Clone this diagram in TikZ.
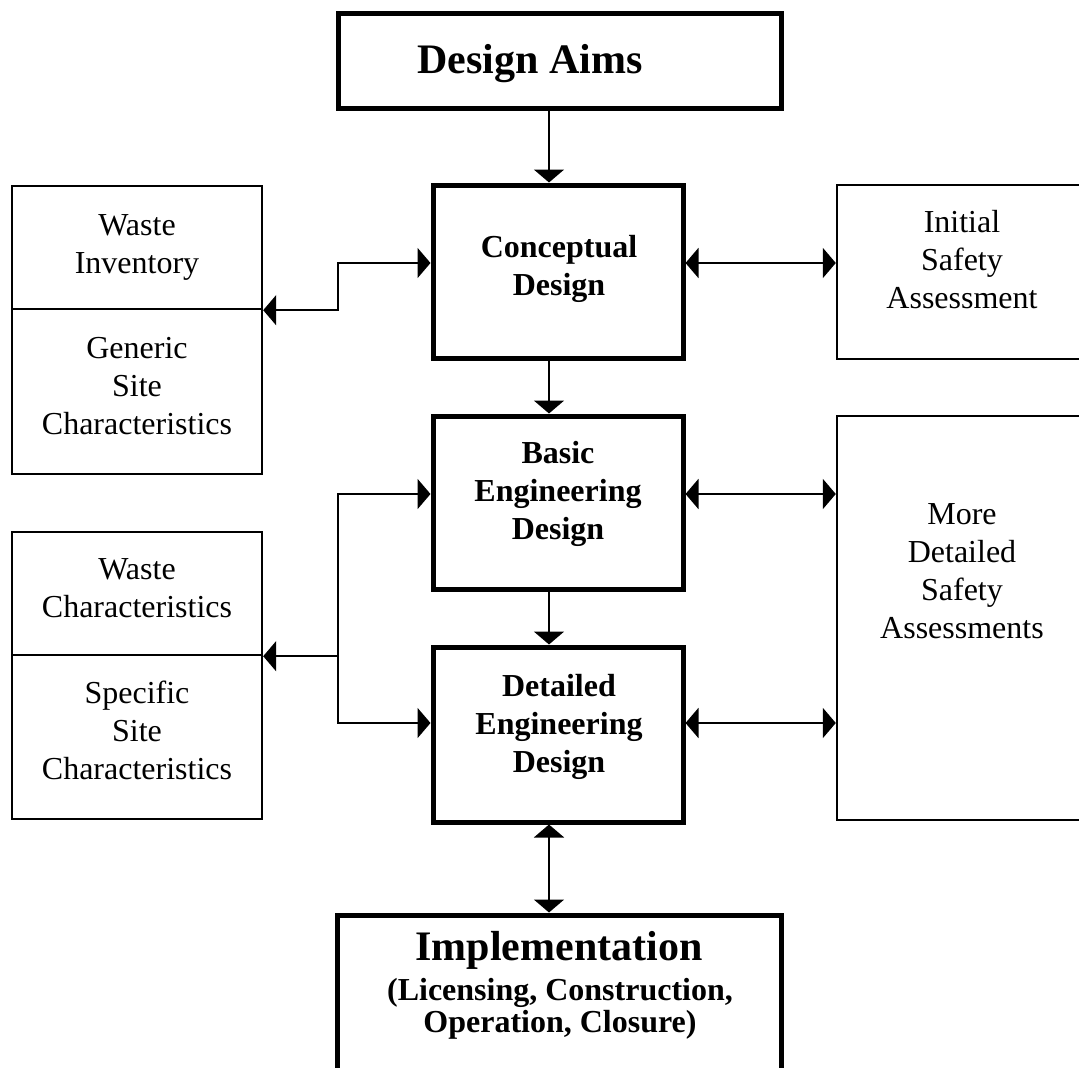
\documentclass[tikz,border=0pt]{standalone}
\usepackage{fontspec}
\setmainfont{Liberation Serif}
\usetikzlibrary{arrows.meta}
\begin{document}
\begin{tikzpicture}[x=1pt,y=-1pt,
  heavybox/.style={draw, line width=5pt, rectangle, inner sep=0pt},
  lightbox/.style={draw, line width=2.4pt, rectangle, inner sep=0pt},
  link/.style={line width=2.2pt},
  >={Triangle[length=13pt,width=30pt]},
  bigtxt/.style={font=\fontsize{42}{48}\selectfont\bfseries, inner sep=0pt, anchor=base},
  boldtxt/.style={font=\fontsize{32}{38}\selectfont\bfseries, align=center, inner sep=0pt, anchor=base},
  plaintxt/.style={font=\fontsize{32}{38}\selectfont, align=center, inner sep=0pt, anchor=base},
]
\clip (0,0) rectangle (1079,1068);
\fill[white] (0,0) rectangle (1079,1068);

% boxes
\node[heavybox, minimum width=443pt, minimum height=95pt] (aims) at (559.5,60.5) {};
\node[heavybox, minimum width=250pt, minimum height=173pt] (concept) at (558,271.5) {};
\node[heavybox, minimum width=250pt, minimum height=173pt] (basic) at (558,502.5) {};
\node[heavybox, minimum width=250pt, minimum height=175pt] (detail) at (558,734.5) {};
\node[heavybox, minimum width=444pt, minimum height=165pt] (impl) at (559,997.5) {};
\node[lightbox, minimum width=250pt, minimum height=123pt] (winv) at (137,247.5) {};
\node[lightbox, minimum width=250pt, minimum height=165pt] (gsite) at (137,391.5) {};
\node[lightbox, minimum width=250pt, minimum height=123pt] (wchar) at (137,593.5) {};
\node[lightbox, minimum width=250pt, minimum height=164pt] (ssite) at (137,737) {};
\node[lightbox, minimum width=250pt, minimum height=174pt] (initial) at (962,272) {};
\node[lightbox, minimum width=250pt, minimum height=404pt] (more) at (962,618) {};

% texts (anchor = baseline of the last line)
\node[bigtxt] (aimst) at (530,73) {Design Aims};
\node[boldtxt] (conceptt) at (559,295) {Conceptual\\Design};
\node[boldtxt] (basict) at (558,539) {Basic\\Engineering\\Design};
\node[boldtxt] (detailt) at (559,772) {Detailed\\Engineering\\Design};
\node[bigtxt] (implt) at (559,960) {Implementation};
\node[boldtxt, font=\fontsize{32}{32}\selectfont\bfseries] (implst) at (560,1032) {(Licensing, Construction,\\Operation, Closure)};
\node[plaintxt] (winvt) at (137,273) {Waste\\Inventory};
\node[plaintxt] (gsitet) at (137,434) {Generic\\Site\\Characteristics};
\node[plaintxt] (wchart) at (137,617) {Waste\\Characteristics};
\node[plaintxt] (ssitet) at (137,779) {Specific\\Site\\Characteristics};
\node[plaintxt] (initialt) at (962,308) {Initial\\Safety\\Assessment};
\node[plaintxt] (moret) at (962,638) {More\\Detailed\\Safety\\Assessments};

% helper coordinates
\coordinate (col) at (549,0);
\coordinate (ya) at (0,263);
\coordinate (yb) at (0,494);
\coordinate (yc) at (0,723);
\coordinate (ja) at (338,263);
\coordinate (jb) at (338,494);
\coordinate (jc) at (338,723);

% vertical flow
\draw[link,->] (aims.south -| col) -- (concept.north -| col);
\draw[link,->] (concept.south -| col) -- (basic.north -| col);
\draw[link,->] (basic.south -| col) -- (detail.north -| col);
\draw[link,<->] (detail.south -| col) -- (impl.north -| col);

% left connectors
\draw[link,<->] (winv.south east) -| (ja) -- (concept.west |- ja);
\draw[link,<->] (basic.west |- jb) -- (jb) -- (jc) -- (detail.west |- jc);
\draw[link,->] (jb |- wchar.south east) -- (wchar.south east);

% right connectors
\draw[link,<->] (concept.east |- ya) -- (initial.west |- ya);
\draw[link,<->] (basic.east |- yb) -- (more.west |- yb);
\draw[link,<->] (detail.east |- yc) -- (more.west |- yc);
\end{tikzpicture}
\end{document}
